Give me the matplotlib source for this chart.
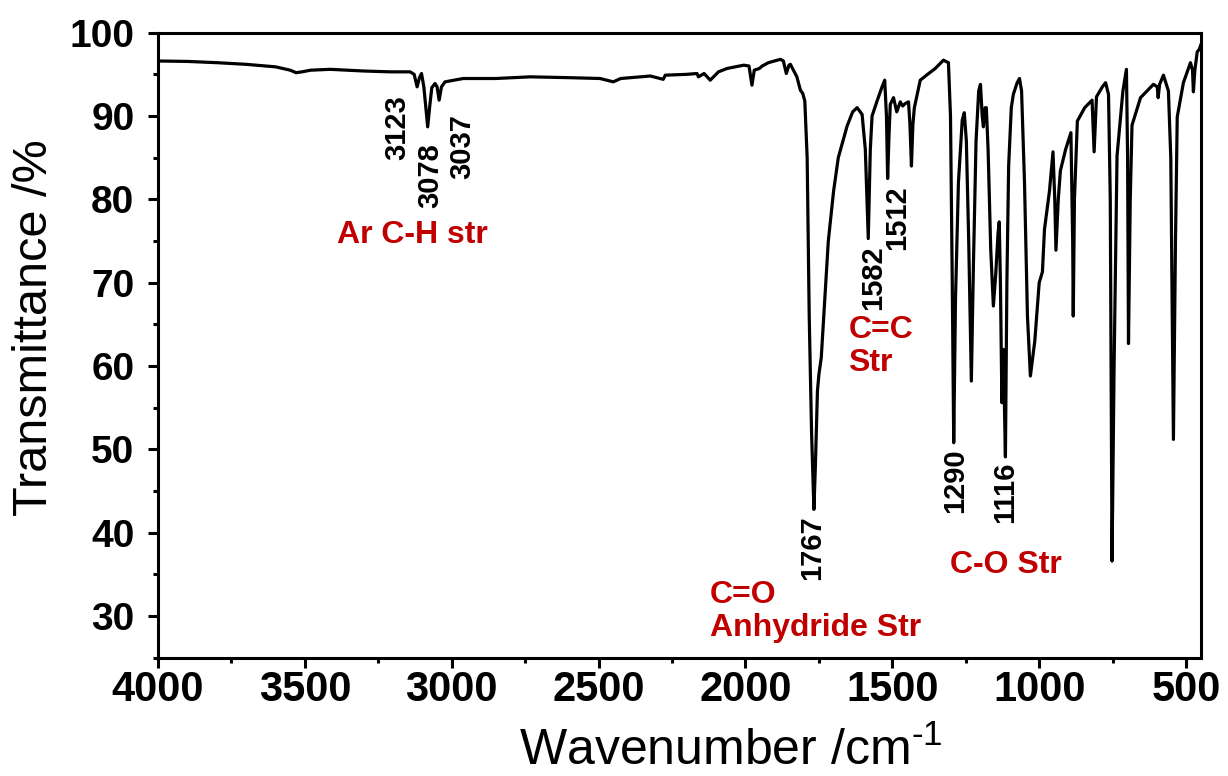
import matplotlib
matplotlib.use("Agg")
import matplotlib.pyplot as plt
from matplotlib.ticker import MultipleLocator

# FTIR spectrum (wavenumber cm-1, transmittance %)
wavenumber = [
    4000, 3900, 3800, 3700, 3600, 3550, 3530, 3510, 3480, 3414, 3300, 3210,
    3142, 3128, 3118, 3110, 3103, 3095, 3082, 3074, 3068, 3057, 3050, 3043,
    3035, 3023, 2961, 2850, 2733, 2600, 2495, 2450, 2425, 2324, 2280, 2273,
    2200, 2165, 2160, 2141, 2120, 2092, 2063, 2006, 1988, 1978, 1970, 1953,
    1943, 1922, 1881, 1871, 1861, 1852, 1847, 1825, 1813, 1805, 1798, 1790,
    1783, 1775, 1767, 1762, 1755, 1750, 1742, 1730, 1718, 1700, 1684, 1654,
    1635, 1620, 1603, 1592, 1582, 1575, 1569, 1553, 1535, 1526, 1520, 1516,
    1511, 1507, 1496, 1485, 1473, 1465, 1456, 1445, 1440, 1435, 1430, 1425,
    1405, 1380, 1354, 1326, 1309, 1302, 1296, 1291, 1285, 1275, 1262, 1255,
    1248, 1240, 1231, 1224, 1215, 1206, 1200, 1194, 1190, 1184, 1180, 1174,
    1165, 1156, 1148, 1140, 1136, 1132, 1127, 1122, 1115, 1110, 1104, 1095,
    1088, 1075, 1067, 1060, 1050, 1040, 1030, 1015, 1000, 989, 982, 965,
    953, 947, 943, 935, 928, 910, 892, 886, 884, 880, 870, 845,
    820, 813, 808, 805, 785, 774, 764, 758, 752, 745, 735, 715,
    703, 699, 696, 690, 684, 655, 611, 598, 595, 590, 577, 560,
    552, 543, 536, 530, 509, 485, 478, 475, 470, 462, 455, 450,
]
transmittance = [
    96.6, 96.55, 96.4, 96.2, 95.9, 95.5, 95.2, 95.3, 95.5, 95.6, 95.4, 95.3,
    95.3, 95.0, 93.5, 94.6, 95.1, 93.5, 88.7, 91.5, 93.4, 93.9, 93.5, 91.9,
    93.5, 94.1, 94.5, 94.5, 94.7, 94.6, 94.5, 94.1, 94.5, 94.8, 94.4, 94.9,
    95.0, 95.1, 94.7, 95.1, 94.3, 95.3, 95.7, 96.1, 96.0, 93.7, 95.5, 95.7,
    96.0, 96.4, 96.8, 96.6, 95.1, 96.1, 96.2, 94.7, 93.1, 92.7, 91.8, 85.0,
    66.0, 52.0, 42.8, 48.0, 57.0, 59.0, 61.0, 68.0, 75.0, 81.0, 85.0, 88.8,
    90.5, 91.0, 90.2, 86.0, 75.3, 86.0, 90.0, 91.7, 93.5, 94.3, 90.0, 82.5,
    88.0, 91.4, 92.2, 90.5, 91.7, 91.2, 91.5, 91.7, 89.0, 84.0, 89.0, 91.0,
    94.3, 95.0, 95.7, 96.7, 96.4, 90.0, 70.0, 50.8, 68.0, 82.0, 89.5, 90.4,
    87.0, 75.0, 58.2, 72.0, 87.0, 93.0, 93.8, 90.0, 88.7, 91.0, 91.0, 86.0,
    74.0, 67.2, 71.0, 76.0, 77.3, 70.0, 55.6, 62.0, 49.1, 70.0, 84.0, 91.0,
    92.6, 94.0, 94.5, 93.0, 82.0, 66.0, 58.8, 63.0, 70.0, 71.3, 76.4, 81.0,
    85.7, 80.0, 73.9, 80.0, 83.4, 86.0, 88.0, 75.0, 66.0, 80.0, 89.4, 91.0,
    91.9, 85.7, 90.0, 92.3, 93.5, 94.0, 92.6, 80.0, 36.6, 60.0, 85.2, 93.0,
    95.6, 85.0, 62.7, 80.0, 88.9, 92.2, 93.8, 93.5, 92.2, 93.8, 94.9, 93.0,
    85.0, 51.2, 75.0, 89.9, 94.0, 96.4, 95.5, 92.9, 95.5, 97.7, 98.0, 98.5,
]

# peak labels (rotated numbers) and band assignments
peak_labels = ["3123", "3078", "3037", "1767", "1582", "1512", "1290", "1116"]
peak_pos = [(3186, 88.6), (3074, 82.8), (2965, 86.3), (1772, 38.2),
            (1565, 70.6), (1483, 77.8), (1285, 46.3), (1115, 44.9)]
band_labels = ["Ar C-H str", "C=O\nAnhydride Str", "C=C\nStr", "C-O Str"]

red = "#c00000"
plt.rcParams["font.family"] = ["Liberation Sans", "DejaVu Sans"]
plt.rcParams["mathtext.default"] = "regular"

fig = plt.figure(figsize=(12.28, 7.76), dpi=100)
ax = fig.add_axes([0.1287, 0.1524, 0.8491, 0.8055])

ax.plot(wavenumber, transmittance, color="black", lw=2.3, solid_joinstyle="round")

ax.set_xlim(4000, 450)
ax.set_ylim(25, 100)
ax.xaxis.set_major_locator(MultipleLocator(500))
ax.xaxis.set_minor_locator(MultipleLocator(250))
ax.yaxis.set_major_locator(MultipleLocator(10))
ax.yaxis.set_minor_locator(MultipleLocator(5))
ax.set_yticks([30, 40, 50, 60, 70, 80, 90, 100])

for s in ax.spines.values():
    s.set_linewidth(2.2)
ax.tick_params(which="both", direction="out", width=2.2, top=False, right=False)
ax.tick_params(which="major", length=7)
ax.tick_params(which="minor", length=3.6)
ax.tick_params(axis="x", labelsize=30, pad=2)
ax.tick_params(axis="y", labelsize=28, pad=10)
for lab in ax.get_xticklabels() + ax.get_yticklabels():
    lab.set_fontweight("bold")

ax.set_xlabel("Wavenumber /cm$^{\u20101}$", fontsize=36)
ax.set_ylabel("Transmittance /%", fontsize=35)
ax.xaxis.set_label_coords(0.549, -0.112)
ax.yaxis.set_label_coords(-0.097, 0.5275)

for txt, (x, y) in zip(peak_labels, peak_pos):
    ax.text(x, y, txt, rotation=90, ha="center", va="center", fontsize=21,
            fontweight="bold")

ax.text(3135, 75.7, band_labels[0], color=red, fontsize=23, fontweight="bold",
        ha="center", va="center")
ax.text(2120, 34.3, band_labels[1], color=red, fontsize=23, fontweight="bold",
        ha="left", va="top", linespacing=1.1)
ax.text(1650, 66.1, band_labels[2], color=red, fontsize=23, fontweight="bold",
        ha="left", va="top", linespacing=1.1)
ax.text(1112, 36.1, band_labels[3], color=red, fontsize=23, fontweight="bold",
        ha="center", va="center")

fig.savefig("out.png", dpi=100)
